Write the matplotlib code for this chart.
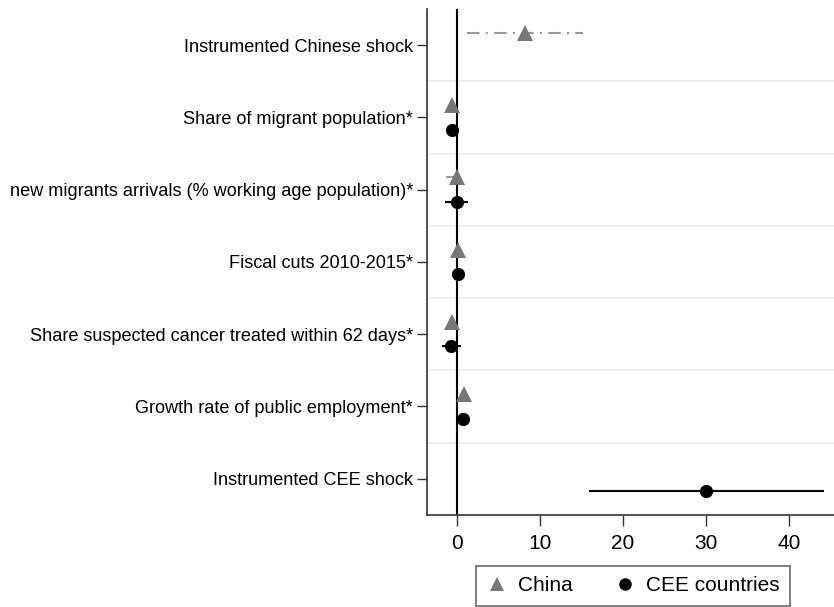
import matplotlib
matplotlib.use("Agg")
from matplotlib import pyplot as plt
from matplotlib.lines import Line2D
import numpy as np

plt.rcParams['font.family'] = ['Liberation Sans', 'DejaVu Sans']

labels = ["Instrumented Chinese shock",
          "Share of migrant population*",
          "new migrants arrivals (% working age population)*",
          "Fiscal cuts 2010-2015*",
          "Share suspected cancer treated within 62 days*",
          "Growth rate of public employment*",
          "Instrumented CEE shock"]

# China estimates (row index, coef, low, high)
china_rows = [1, 2, 3, 4, 5, 6]
china_coef = [8.2, -0.6, 0.0, 0.1, -0.6, 0.9]
china_lo = [1.2, -0.9, -1.3, -0.1, -0.9, 0.7]
china_hi = [15.2, -0.3, 0.4, 0.3, -0.3, 1.1]

# CEE estimates
cee_rows = [2, 3, 4, 5, 6, 7]
cee_coef = [-0.6, 0.0, 0.1, -0.7, 0.8, 30.0]
cee_lo = [-0.9, -1.4, -0.1, -1.8, 0.5, 15.9]
cee_hi = [-0.3, 1.3, 0.3, 0.5, 1.1, 44.2]

xticks = [0, 10, 20, 30, 40]

off = 0.17
fig = plt.figure(figsize=(8.34, 6.07), dpi=100)
ax = fig.add_axes([0.512, 0.152, 0.488, 0.833])

for yy in np.arange(1.5, 7.5, 1):
    ax.axhline(yy, color="#ececec", lw=1.2, zorder=0)
ax.axvline(0, color="black", lw=1.5, zorder=1)

cy = np.array(china_rows) - off
ax.hlines(cy, china_lo, china_hi, colors="#999999", lw=1.5,
          linestyles=(0, (6, 3, 1, 3)), zorder=2)
ax.plot(china_coef, cy, "^", color="#777777", ms=11.5, mew=0, zorder=3)

ey = np.array(cee_rows) + off
ax.hlines(ey, cee_lo, cee_hi, colors="black", lw=1.5, zorder=2)
ax.plot(cee_coef, ey, "o", color="black", ms=9.5, mew=0, zorder=3)

ax.set_ylim(7.5, 0.5)
ax.set_xlim(-3.58, 45.45)
ax.set_yticks(range(1, 8))
ax.set_yticklabels(labels, fontsize=13.1)
ax.set_xticks(xticks)
ax.tick_params(axis="x", labelsize=15, length=8, width=1, color="#333333", pad=6)
ax.tick_params(axis="y", length=7, width=1, color="#333333", pad=3)
for s in ["top", "right"]:
    ax.spines[s].set_visible(False)
for s in ["left", "bottom"]:
    ax.spines[s].set_color("#333333")
    ax.spines[s].set_linewidth(1.2)

handles = [Line2D([], [], marker="^", color="#777777", ls="none", ms=10.5, mew=0),
           Line2D([], [], marker="o", color="black", ls="none", ms=9, mew=0)]
leg = fig.legend(handles, ["China", "CEE countries"], loc="upper center",
                 bbox_to_anchor=(0.759, 0.068), ncol=2, fontsize=15,
                 frameon=True, fancybox=False, handlelength=1.0,
                 handletextpad=0.5, columnspacing=2.0, borderpad=0.5,
                 borderaxespad=0)
leg.get_frame().set_edgecolor("#444444")
leg.get_frame().set_linewidth(1.2)

fig.savefig("out.png", dpi=100)
